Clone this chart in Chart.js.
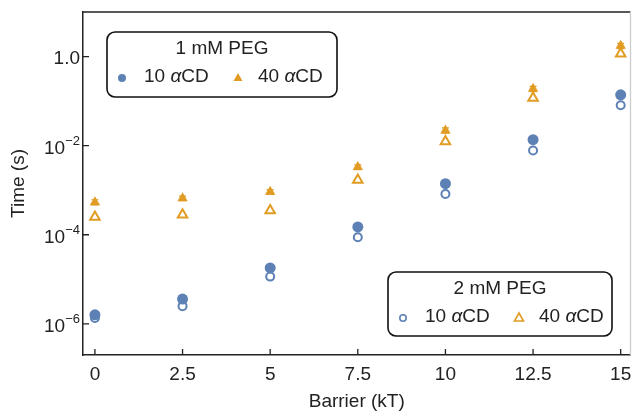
<!DOCTYPE html>
<html lang="en">
<head>
<meta charset="UTF-8">
<title>Time vs Barrier</title>
<script src="https://cdn.jsdelivr.net/npm/chart.js"></script>
<style>
  html, body { margin: 0; padding: 0; background: #fff; }
  .chart-container { position: relative; width: 638px; height: 411px; }
</style>
</head>
<body>
<div class="chart-container">
  <canvas id="grafico"></canvas>
</div>
<script>
  // data
  const barrier = [0, 2.5, 5, 7.5, 10, 12.5, 15];
  const peg1_10 = [1.6e-6, 3.6e-6, 1.8e-5, 1.5e-4, 1.4e-3, 1.36e-2, 0.138];
  const peg1_40 = [5.4e-4, 6.6e-4, 9.2e-4, 3.3e-3, 0.022, 0.189, 1.74];
  const peg1_40_err = [0.7e-4, 0.8e-4, 1.1e-4, 0.4e-3, 0.003, 0.025, 0.24];
  const peg2_10 = [1.35e-6, 2.5e-6, 1.15e-5, 8.8e-5, 8.2e-4, 7.8e-3, 0.081];
  const peg2_40 = [2.5e-4, 2.8e-4, 3.5e-4, 1.7e-3, 0.0124, 0.117, 1.15];

  const xTicks = [0, 2.5, 5, 7.5, 10, 12.5, 15];
  const yTicks = [1e-6, 1e-4, 1e-2, 1];

  const azul = 'rgb(94,129,181)';
  const laranja = 'rgb(225,156,36)';
  const fonte = '"Liberation Sans", Arial, sans-serif';

  const pts = (ys) => barrier.map((x, i) => ({ x: x, y: ys[i] }));

  // small error bars on the 1 mM / 40 aCD points
  const barras = {
    id: 'barras',
    afterDatasetsDraw(chart) {
      const { ctx, scales } = chart;
      ctx.save();
      ctx.strokeStyle = laranja;
      ctx.lineWidth = 1.2;
      ctx.beginPath();
      barrier.forEach((x, i) => {
        const px = scales.x.getPixelForValue(x);
        const hi = scales.y.getPixelForValue(peg1_40[i] + peg1_40_err[i]);
        const lo = scales.y.getPixelForValue(peg1_40[i] - peg1_40_err[i]);
        ctx.moveTo(px, hi); ctx.lineTo(px, lo);
        ctx.moveTo(px - 3.5, hi); ctx.lineTo(px + 3.5, hi);
        ctx.moveTo(px - 3.5, lo); ctx.lineTo(px + 3.5, lo);
      });
      ctx.stroke();
      ctx.restore();
    }
  };

  // ticks pointing inward + top/right frame
  const moldura = {
    id: 'moldura',
    afterDraw(chart) {
      const { ctx, chartArea: a, scales } = chart;
      ctx.save();
      ctx.strokeStyle = '#222';
      ctx.lineWidth = 1.3;
      ctx.beginPath();
      scales.x.ticks.forEach(t => {
        const px = scales.x.getPixelForValue(t.value);
        ctx.moveTo(px, a.bottom); ctx.lineTo(px, a.bottom - 6);
      });
      scales.y.ticks.forEach(t => {
        const py = scales.y.getPixelForValue(t.value);
        ctx.moveTo(a.left, py); ctx.lineTo(a.left + 6, py);
      });
      ctx.moveTo(a.left, a.top); ctx.lineTo(a.right, a.top);
      ctx.stroke();
      ctx.strokeStyle = '#ccc';
      ctx.beginPath();
      ctx.moveTo(a.right, a.top); ctx.lineTo(a.right, a.bottom);
      ctx.stroke();

      // y tick labels with superscripts
      ctx.fillStyle = '#222';
      ctx.textBaseline = 'alphabetic';
      ctx.textAlign = 'left';
      const xr = a.left - 3;
      scales.y.ticks.forEach(t => {
        const py = scales.y.getPixelForValue(t.value);
        const e = Math.round(Math.log10(t.value));
        if (e === 0) {
          ctx.font = '19px ' + fonte;
          const w = ctx.measureText('1.0').width;
          ctx.fillText('1.0', xr - w, py + 7);
        } else {
          const ex = '\u2212' + Math.abs(e);
          ctx.font = '13px ' + fonte;
          const we = ctx.measureText(ex).width;
          ctx.fillText(ex, xr - we, py - 1);
          ctx.font = '19px ' + fonte;
          const wb = ctx.measureText('10').width;
          ctx.fillText('10', xr - we - wb, py + 8);
        }
      });
      ctx.restore();
    }
  };

  // the two boxed legends
  const legendas = [
    { titulo: '1 mM PEG', x: 107, y: 32, w: 230, h: 65, cheio: true },
    { titulo: '2 mM PEG', x: 388, y: 272, w: 224, h: 64, cheio: false }
  ];

  function rotulo(ctx, num, x, y) {
    ctx.font = '19px ' + fonte;
    ctx.fillText(num + ' ', x, y);
    x += ctx.measureText(num + ' ').width;
    ctx.font = 'italic 19px ' + fonte;
    ctx.fillText('\u03b1', x, y);
    x += ctx.measureText('\u03b1').width;
    ctx.font = '19px ' + fonte;
    ctx.fillText('CD', x, y);
  }

  const caixas = {
    id: 'caixas',
    afterDraw(chart) {
      const ctx = chart.ctx;
      ctx.save();
      legendas.forEach(l => {
        ctx.strokeStyle = '#111';
        ctx.lineWidth = 1.6;
        ctx.beginPath();
        ctx.roundRect(l.x, l.y, l.w, l.h, 8);
        ctx.fillStyle = '#fff';
        ctx.fill();
        ctx.stroke();

        ctx.fillStyle = '#222';
        ctx.textBaseline = 'middle';
        ctx.textAlign = 'center';
        ctx.font = '19px ' + fonte;
        ctx.fillText(l.titulo, l.x + l.w / 2, l.y + 17);

        ctx.textAlign = 'left';
        const yy = l.y + 45;
        rotulo(ctx, '10', l.x + 37, yy);
        rotulo(ctx, '40', l.x + 151, yy);

        // markers
        ctx.lineWidth = 1.6;
        const cx = l.x + 15, tx = l.x + 131;
        ctx.beginPath();
        ctx.arc(cx, yy + 1, l.cheio ? 4 : 3.2, 0, Math.PI * 2);
        if (l.cheio) { ctx.fillStyle = azul; ctx.fill(); }
        else { ctx.strokeStyle = azul; ctx.stroke(); }
        ctx.beginPath();
        ctx.moveTo(tx, yy - 4);
        ctx.lineTo(tx + 4.5, yy + 4);
        ctx.lineTo(tx - 4.5, yy + 4);
        ctx.closePath();
        if (l.cheio) { ctx.fillStyle = laranja; ctx.fill(); }
        else { ctx.strokeStyle = laranja; ctx.stroke(); }
      });
      ctx.restore();
    }
  };

  new Chart(document.getElementById('grafico'), {
    type: 'scatter',
    data: {
      datasets: [
        { label: '2 mM 10', data: pts(peg2_10), pointStyle: 'circle', pointRadius: 4, borderWidth: 2,
          borderColor: azul, backgroundColor: 'rgba(255,255,255,0)' },
        { label: '2 mM 40', data: pts(peg2_40), pointStyle: 'triangle', pointRadius: 5.5, borderWidth: 2,
          borderColor: laranja, backgroundColor: 'rgba(255,255,255,0)' },
        { label: '1 mM 10', data: pts(peg1_10), pointStyle: 'circle', pointRadius: 5.5, borderWidth: 0,
          borderColor: azul, backgroundColor: azul },
        { label: '1 mM 40', data: pts(peg1_40), pointStyle: 'triangle', pointRadius: 6, borderWidth: 0,
          borderColor: laranja, backgroundColor: laranja }
      ]
    },
    options: {
      responsive: true,
      maintainAspectRatio: false,
      animation: false,
      events: [],
      layout: { padding: { top: 12, right: 1, left: 0, bottom: 0 } },
      plugins: { legend: { display: false }, tooltip: { enabled: false } },
      scales: {
        x: {
          type: 'linear',
          min: -0.34,
          max: 15.28,
          afterBuildTicks: (s) => { s.ticks = xTicks.map(v => ({ value: v })); },
          afterFit: (s) => { s.height = 56; },
          grid: { display: false },
          border: { display: true, color: '#222', width: 1.5 },
          ticks: { color: '#222', padding: 0, maxRotation: 0, font: { family: fonte, size: 19 },
            callback: (v) => String(v) },
          title: { display: true, text: 'Barrier (kT)', color: '#222', padding: 0,
            font: { family: fonte, size: 19, lineHeight: 1 } }
        },
        y: {
          type: 'logarithmic',
          min: 2.0e-7,
          max: 10,
          afterBuildTicks: (s) => { s.ticks = yTicks.map(v => ({ value: v })); },
          afterFit: (s) => { s.width = 83; },
          grid: { display: false },
          border: { display: true, color: '#222', width: 1.5 },
          ticks: { display: false },
          title: { display: true, text: 'Time (s)', color: '#222', padding: { top: 9, bottom: 0 },
            font: { family: fonte, size: 19, lineHeight: 1 } }
        }
      }
    },
    plugins: [barras, moldura, caixas]
  });
</script>
</body>
</html>
